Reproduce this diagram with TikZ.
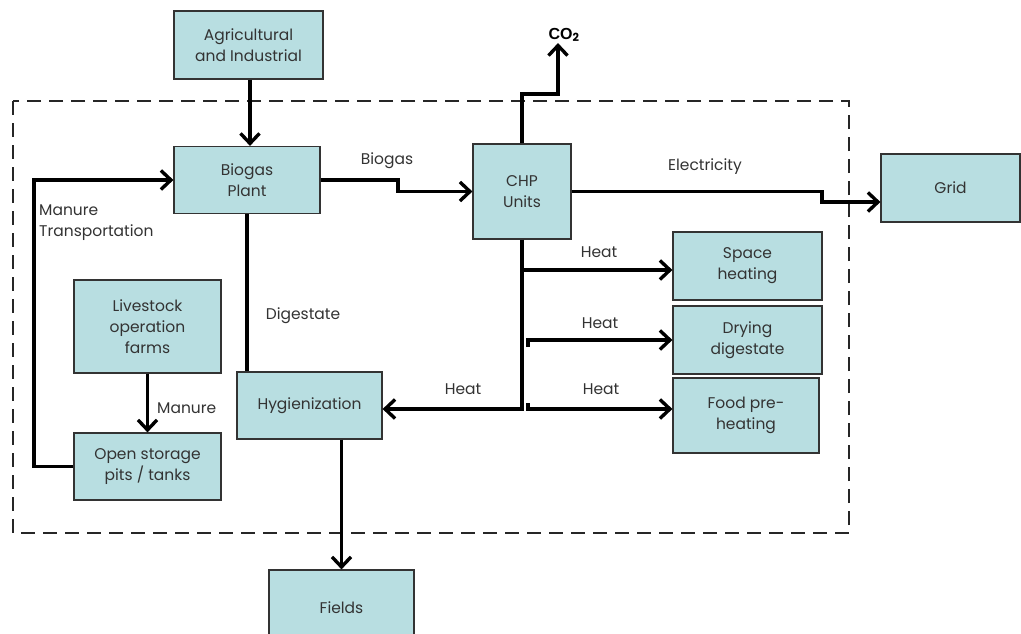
\documentclass[tikz,border=0pt]{standalone}
\usepackage{fontspec}
\setmainfont{Poppins}
\newfontfamily\cofont{Liberation Sans}
\usetikzlibrary{arrows.meta}
\definecolor{boxfill}{HTML}{B8DEE1}
\definecolor{txt}{HTML}{333333}
\tikzset{
  blk/.style={draw=txt, line width=1.2pt, fill=boxfill, inner sep=0pt, align=center,
    text=txt, font=\fontsize{15.5}{21}\selectfont},
  lbl/.style={text=txt, font=\fontsize{15.5}{21}\selectfont, inner sep=1pt},
  conn/.style={line width=3.4pt, black, line join=miter},
  arr/.style={conn, -{Straight Barb[length=10pt,width=19pt,line width=3.4pt]}},
  sysbox/.style={line width=2.7pt, draw=black!85, dash pattern=on 14pt off 8pt}
}
\begin{document}
\begin{tikzpicture}[x=1pt,y=-1pt]
\useasboundingbox (0,0) rectangle (1021,634);
\fill[white] (0,0) rectangle (1021,634);
\draw[sysbox] (13,101) rectangle (849,533);

\node[blk, minimum width=149pt, minimum height=68pt] (agri) at (248.5,45) {Agricultural\\and Industrial};
\node[blk, minimum width=146pt, minimum height=67pt] (biogas) at (247,180) {Biogas\\Plant};
\node[blk, minimum width=98pt, minimum height=95pt] (chp) at (522,191.5) {CHP\\Units};
\node[blk, minimum width=139pt, minimum height=68pt] (grid) at (950.5,188) {Grid};
\node[blk, minimum width=149pt, minimum height=68pt] (space) at (747.5,266) {Space\\heating};
\node[blk, minimum width=149pt, minimum height=68pt] (drying) at (747.5,340) {Drying\\digestate};
\node[blk, minimum width=146pt, minimum height=75pt] (food) at (746,415.5) {Food pre-\\heating};
\node[blk, minimum width=147pt, minimum height=93pt] (livestock) at (147.5,326.5) {Livestock\\operation\\farms};
\node[blk, minimum width=147pt, minimum height=67pt] (storage) at (147.5,466.5) {Open storage\\pits / tanks};
\node[blk, minimum width=145pt, minimum height=67pt] (hyg) at (309.5,405.5) {Hygienization};
\node[blk, minimum width=145pt, minimum height=76pt] (fields) at (341.5,608) {Fields};

\node[text=black, font=\cofont\bfseries\fontsize{16}{18}\selectfont, inner sep=1pt] (co2) at (564,35) {CO$_{\mathbf 2}$};

% connectors
\draw[arr] (agri.south -| 250,0) -- (biogas.north -| 250,0);
\coordinate (b1) at (398,180);
\draw[arr] (biogas.east) -- (b1) |- (chp.west);
\coordinate (co2a) at (558,94);
\draw[arr] (chp.north) |- (co2a) -- (co2a |- co2.south);
\coordinate (e1) at (822,191.5);
\coordinate (e2) at (822,202);
\draw[arr] (chp.east) -- (e1) -- (e2) -- (e2 -| grid.west);
\coordinate (h0) at (522,409);
\draw[arr] (chp.south) -- (h0) -- (h0 -| hyg.east);
\coordinate (s0) at (522,270);
\draw[arr] (s0) -- (s0 -| space.west);
\coordinate (d0) at (528,347);
\coordinate (d1) at (528,340);
\draw[arr] (d0) -- (d1) -- (d1 -| drying.west);
\coordinate (f0) at (528,403);
\coordinate (f1) at (528,409);
\draw[arr] (f0) -- (f1) -- (f1 -| food.west);
\draw[conn] (biogas.south) -- (biogas.south |- hyg.north);
\draw[arr] (livestock.south) -- (storage.north);
\coordinate (m1) at (34,466.5);
\draw[arr] (storage.west) -- (m1) |- (biogas.west);
\draw[arr] (fields.north |- hyg.south) -- (fields.north);

% labels
\node[lbl] (lbiogas) at (387,161) {Biogas};
\node[lbl] (lelec) at (705,167) {Electricity};
\node[lbl] (lheat1) at (599,252) {Heat};
\node[lbl] (lheat2) at (600,323) {Heat};
\node[lbl] (lheat3) at (601,389) {Heat};
\node[lbl] (lheat4) at (463,389) {Heat};
\node[lbl] (ldig) at (303,316) {Digestate};
\node[lbl, anchor=west] (lman) at (156,408) {Manure};
\node[lbl, anchor=north west, align=left] (ltrans) at (38,204) {Manure\\Transportation};
\end{tikzpicture}
\end{document}
